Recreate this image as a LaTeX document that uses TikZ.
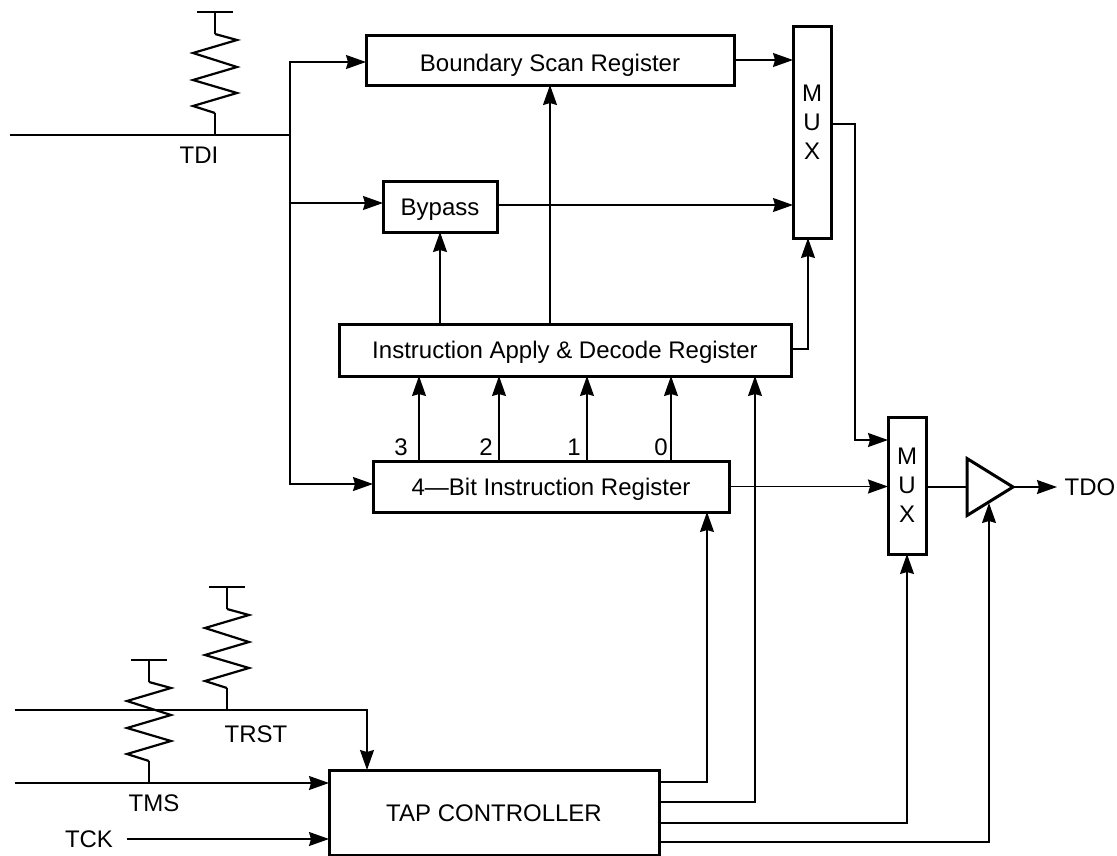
\documentclass[tikz,border=0pt]{standalone}
\usepackage{fontspec}
\setmainfont{Liberation Sans}
\usetikzlibrary{positioning,arrows.meta,shapes.geometric}

\tikzset{
  wire/.style={line width=1.5pt},
  regbox/.style={draw, line width=3pt, fill=white, outer sep=0pt, inner sep=0pt, text height=17pt, text depth=0pt},
  muxbox/.style={regbox, minimum width=38pt, align=center, text height=, text depth=},
  sig/.style={inner sep=0pt},
  pullup/.pic={
    \draw[wire] (-18,-123) -- (18,-123);
    \draw[wire] (0,-123) -- (0,-101);
    \draw[wire] (0,0) -- (0,-22);
    \draw[line width=2.2pt] (0,-101) -- (22,-95) -- (-22,-82) -- (22,-68) -- (-22,-55) -- (22,-42) -- (-22,-29) -- (0,-22);
  }
}

\begin{document}
\begin{tikzpicture}[x=1pt, y=-1pt, >={Stealth[length=20pt,width=14pt,inset=2pt]}, every node/.style={font=\fontsize{24}{29}\selectfont}]
  \useasboundingbox (0,0) rectangle (1117,855);
  % registers
  \node[regbox, text height=22pt, minimum width=368pt, minimum height=50pt] (bsr) at (550,60) {Boundary Scan Register};
  \node[muxbox, minimum height=212pt, right=59pt of bsr, yshift=-72pt] (muxa) {M\\U\\X\\[-9pt]~};
  \node[regbox, minimum width=114pt, minimum height=51pt, below=96pt of bsr, xshift=-110pt] (bypass) {Bypass};
  \node[regbox, minimum width=452pt, minimum height=52pt, below=92pt of bypass, xshift=125pt] (iadr) {Instruction Apply \& Decode Register};
  \node[regbox, minimum width=356pt, minimum height=51pt, below=85pt of iadr, xshift=-14pt] (ireg) {4---Bit Instruction Register};
  \node[muxbox, minimum height=137pt, right=159pt of ireg, yshift=1pt] (muxb) {M\\U\\X};
  \node[draw, line width=3pt, isosceles triangle, isosceles triangle stretches, shape border rotate=0, minimum width=57pt, minimum height=46pt, inner sep=0pt, outer sep=0pt, right=41pt of muxb, yshift=-1.5pt] (buf) {};
  \node[regbox, minimum width=330pt, minimum height=85pt, below=258pt of ireg, xshift=-57pt] (tap) {TAP CONTROLLER};
  % signal names
  \node[sig] (tdi) at (199,155) {TDI};
  \node[sig] (trst) at (256,734) {TRST};
  \node[sig] (tms) at (154,803) {TMS};
  \node[sig] (tck) at (89,839) {TCK};
  \node[sig] (tdo) at (1090,487) {TDO};
  % free ends
  \coordinate (tdiin) at (10,135);
  \coordinate (tdinode) at (290,135);
  \coordinate (trstin) at (15,710);
  \coordinate (tmsin) at (15,783);
  \coordinate (tdiup) at (215,135);
  \coordinate (trstup) at (227,710);
  \coordinate (tmsup) at (149,783);
  % pull-ups
  \pic at (tdiup) {pullup};
  \pic at (trstup) {pullup};
  \pic at (tmsup) {pullup};
  % TDI fan-out
  \draw[wire] (tdiin) -- (tdinode);
  \draw[wire, ->] (tdinode) |- (bsr.west |- 0,62);
  \draw[wire, ->] (tdinode) |- (bypass.west |- 0,203);
  \draw[wire, ->] (tdinode) |- (ireg.west |- 0,484);
  % upper datapath
  \draw[wire, ->] (bsr.east) -- (muxa.west |- bsr.east);
  \draw[wire, ->] (bypass.east |- 0,205) -- (muxa.west |- 0,205);
  \draw[wire, ->] (iadr.north -| bypass) -- (bypass.south);
  \draw[wire, ->] (iadr.north -| bsr) -- (bsr.south);
  \draw[wire, ->] (iadr.east |- 0,349) -| (muxa.south -| 808,0);
  % instruction bits
  \foreach \bitx/\bitn/\labx in {419/3/401, 499/2/486, 587/1/574, 671/0/661}{
    \draw[wire, ->] (ireg.north -| \bitx,0) -- (iadr.south -| \bitx,0);
    \node[sig] (bit\bitn) at (\labx,447) {\bitn};
  }
  % output path
  \draw[wire, ->] (muxa.east |- 0,124) -- (855,124) |- (muxb.west |- 0,440);
  \draw[wire, ->] (ireg.east) -- (muxb.west |- ireg.east);
  \draw[wire] (muxb.east |- buf.apex) -- (buf.west |- buf.apex);
  \draw[wire, ->] (buf.apex) -- (buf.apex -| 1057,0);
  % TAP inputs and outputs
  \draw[wire, ->] (trstin) -| (tap.north -| 367,0);
  \draw[wire, ->] (tmsin) -- (tap.west |- tmsin);
  \draw[wire, ->] (tck.east -| 127,0) -- (tap.west |- tck);
  \draw[wire, ->] (tap.east |- 0,782) -| (ireg.south -| 707,0);
  \draw[wire, ->] (tap.east |- 0,802) -| (iadr.south -| 755,0);
  \draw[wire, ->] (tap.east |- 0,823) -| (muxb.south -| 907,0);
  \draw[wire, ->] (tap.east |- 0,842) -| (989,503);
\end{tikzpicture}
\end{document}
